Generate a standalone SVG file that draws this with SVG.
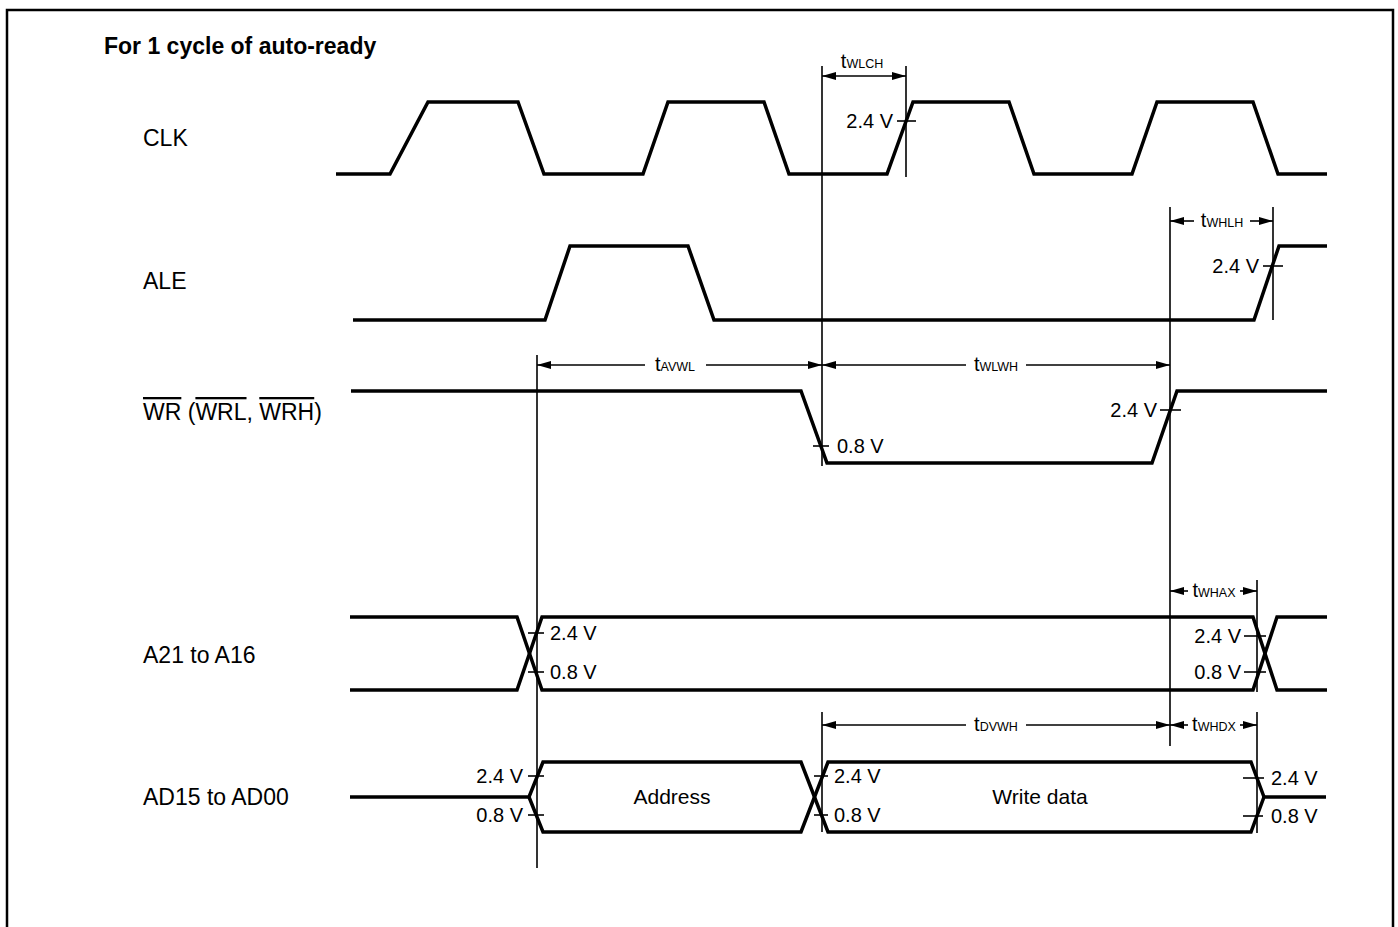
<svg xmlns="http://www.w3.org/2000/svg" width="1398" height="927" viewBox="0 0 1398 927">
<style>
text{font-family:"Liberation Sans",Arial,sans-serif;fill:#000}
.lbl{font-size:23px}
.ttl{font-size:23px;font-weight:bold}
.dat{font-size:21px}
.v{font-size:20px}
.t{font-size:20px}
.sub{font-size:12.5px}
.wave{fill:none;stroke:#000;stroke-width:3.5;stroke-linejoin:miter}
.ref{stroke:#000;stroke-width:1.6;fill:none}
.tick{stroke:#000;stroke-width:1.6}
.dim{stroke:#000;stroke-width:1.6;fill:none;marker-end:url(#arr)}
.frame{fill:none;stroke:#000;stroke-width:2.5}
</style>
<defs>
<marker id="arr" viewBox="0 0 14 8" refX="14" refY="4" markerWidth="14" markerHeight="8" markerUnits="userSpaceOnUse" orient="auto">
<path d="M0,0 L14,4 L0,8 z" fill="#000"/>
</marker>
</defs>
<rect width="1398" height="927" fill="#fff"/>
<path class="frame" d="M7,930 V10 H1393 V930"/>
<text class="ttl" x="104" y="54">For 1 cycle of auto-ready</text>

<g id="clk">
<text class="lbl" x="143" y="146">CLK</text>
<path class="wave" d="M336,174 H390 L428,102 H518 L544,174 H643 L668,102 H764 L789,174 H887 L913,102 H1009 L1034,174 H1132 L1157,102 H1253 L1278,174 H1327"/>
<line class="tick" x1="897" y1="121" x2="916" y2="121"/>
<text class="v" x="893" y="128" text-anchor="end">2.4 V</text>
</g>

<g id="ale">
<text class="lbl" x="143" y="289">ALE</text>
<path class="wave" d="M353,320 H545 L570,246 H688 L714,320 H1254 L1279,246 H1327"/>
<line class="tick" x1="1263" y1="266" x2="1283" y2="266"/>
<text class="v" x="1259" y="273" text-anchor="end">2.4 V</text>
</g>

<g id="wr">
<text class="lbl" x="143" y="420"><tspan text-decoration="overline">WR</tspan> (<tspan text-decoration="overline">WRL</tspan>, <tspan text-decoration="overline">WRH</tspan>)</text>
<path class="wave" d="M351,391 H801 L827,463 H1152 L1177,391 H1327"/>
<line class="tick" x1="813" y1="446" x2="829" y2="446"/>
<text class="v" x="837" y="453">0.8 V</text>
<line class="tick" x1="1160" y1="410" x2="1181" y2="410"/>
<text class="v" x="1157" y="417" text-anchor="end">2.4 V</text>
</g>

<g id="a21">
<text class="lbl" x="143" y="663">A21 to A16</text>
<path class="wave" d="M350,617 H517 L542,690 H1253 L1277,617 H1327"/>
<path class="wave" d="M350,690 H517 L542,617 H1253 L1277,690 H1327"/>
<line class="tick" x1="528" y1="633" x2="544" y2="633"/>
<line class="tick" x1="528" y1="672" x2="544" y2="672"/>
<text class="v" x="550" y="640">2.4 V</text>
<text class="v" x="550" y="679">0.8 V</text>
<line class="tick" x1="1244" y1="636" x2="1266" y2="636"/>
<line class="tick" x1="1244" y1="672" x2="1266" y2="672"/>
<text class="v" x="1241" y="643" text-anchor="end">2.4 V</text>
<text class="v" x="1241" y="679" text-anchor="end">0.8 V</text>
</g>

<g id="ad">
<text class="lbl" x="143" y="805">AD15 to AD00</text>
<path class="wave" d="M350,797 H529 L543,762 H801 L828,832 H1251 L1264,797 H1326"/>
<path class="wave" d="M529,797 L543,832 H801 L828,762 H1251 L1264,797"/>
<text class="dat" x="672" y="804" text-anchor="middle">Address</text>
<text class="dat" x="1040" y="804" text-anchor="middle">Write data</text>
<line class="tick" x1="528" y1="776" x2="544" y2="776"/>
<line class="tick" x1="528" y1="815" x2="544" y2="815"/>
<text class="v" x="523" y="783" text-anchor="end">2.4 V</text>
<text class="v" x="523" y="822" text-anchor="end">0.8 V</text>
<line class="tick" x1="814" y1="776" x2="828" y2="776"/>
<line class="tick" x1="814" y1="815" x2="828" y2="815"/>
<text class="v" x="834" y="783">2.4 V</text>
<text class="v" x="834" y="822">0.8 V</text>
<line class="tick" x1="1243" y1="778" x2="1264" y2="778"/>
<line class="tick" x1="1243" y1="816" x2="1263" y2="816"/>
<text class="v" x="1271" y="785">2.4 V</text>
<text class="v" x="1271" y="823">0.8 V</text>
</g>

<g id="connectors">
<line class="ref" x1="537" y1="355" x2="537" y2="868"/>
<line class="ref" x1="822" y1="66" x2="822" y2="466"/>
<line class="ref" x1="906" y1="66" x2="906" y2="177"/>
<line class="ref" x1="1170" y1="207" x2="1170" y2="746"/>
<line class="ref" x1="1273" y1="207" x2="1273" y2="320"/>
<line class="ref" x1="822" y1="712" x2="822" y2="832"/>
<line class="ref" x1="1257" y1="580" x2="1257" y2="692"/>
<line class="ref" x1="1257" y1="712" x2="1257" y2="833"/>

<line class="dim" x1="864" y1="76" x2="822" y2="76"/>
<line class="dim" x1="864" y1="76" x2="906" y2="76"/>
<text class="t" x="862" y="68" text-anchor="middle">t<tspan class="sub">WLCH</tspan></text>

<line class="dim" x1="1194" y1="221" x2="1170" y2="221"/>
<line class="dim" x1="1250" y1="221" x2="1273" y2="221"/>
<text class="t" x="1222" y="227" text-anchor="middle">t<tspan class="sub">WHLH</tspan></text>

<line class="dim" x1="645" y1="365" x2="537" y2="365"/>
<line class="dim" x1="706" y1="365" x2="822" y2="365"/>
<text class="t" x="675" y="371" text-anchor="middle">t<tspan class="sub">AVWL</tspan></text>

<line class="dim" x1="966" y1="365" x2="822" y2="365"/>
<line class="dim" x1="1026" y1="365" x2="1170" y2="365"/>
<text class="t" x="996" y="371" text-anchor="middle">t<tspan class="sub">WLWH</tspan></text>

<line class="dim" x1="1188" y1="591" x2="1170" y2="591"/>
<line class="dim" x1="1240" y1="591" x2="1257" y2="591"/>
<text class="t" x="1214" y="597" text-anchor="middle">t<tspan class="sub">WHAX</tspan></text>

<line class="dim" x1="966" y1="725" x2="822" y2="725"/>
<line class="dim" x1="1026" y1="725" x2="1170" y2="725"/>
<text class="t" x="996" y="731" text-anchor="middle">t<tspan class="sub">DVWH</tspan></text>

<line class="dim" x1="1188" y1="725" x2="1170" y2="725"/>
<line class="dim" x1="1240" y1="725" x2="1257" y2="725"/>
<text class="t" x="1214" y="731" text-anchor="middle">t<tspan class="sub">WHDX</tspan></text>
</g>
</svg>
